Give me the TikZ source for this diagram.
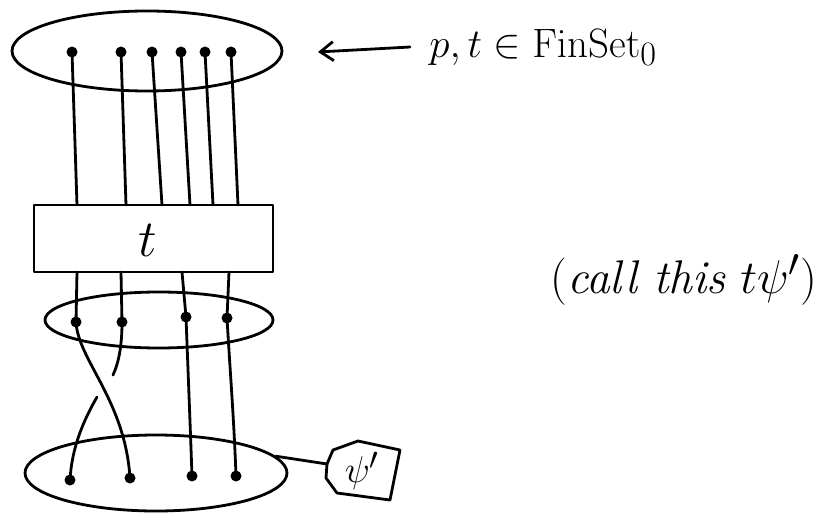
\documentclass[tikz,border=0pt]{standalone}
\usetikzlibrary{shapes.geometric,arrows.meta}
\begin{document}
\begin{tikzpicture}[x=1pt,y=-1pt,line width=2.8pt,line cap=round,line join=round,
  dot/.style={circle,fill,draw=none,inner sep=0pt,minimum size=11pt},
  setbag/.style={ellipse,draw,inner sep=0pt},
  pointer/.style={-{Straight Barb[length=13pt,width=19pt]}}]
\useasboundingbox (0,0) rectangle (834,513);

% the three finite sets
\node[setbag,minimum width=270pt,minimum height=80pt] (top) at (147,51) {};
\node[setbag,minimum width=228pt,minimum height=56pt] (mid) at (159,320) {};
\node[setbag,minimum width=262pt,minimum height=76pt] (bot) at (156,473) {};

% the box t
\node[draw,minimum width=239pt,minimum height=67pt,inner sep=0pt] (tbox) at (153.5,238.5) {};
\node (tlab) at (148,240) {\scalebox{2.1}{\Huge $t$}};

% points of the top set
\node[dot] (p1) at (72,52) {};
\node[dot] (p2) at (121,52) {};
\node[dot] (p3) at (152,52) {};
\node[dot] (p4) at (181,52) {};
\node[dot] (p5) at (205,52) {};
\node[dot] (p6) at (231,52) {};

% inputs and outputs on the box
\coordinate (u1) at (77,205);
\coordinate (u2) at (126,205);
\coordinate (u3) at (162,205);
\coordinate (u4) at (190,205);
\coordinate (u5) at (213,205);
\coordinate (u6) at (238,205);
\coordinate (d1) at (77,272);
\coordinate (d2) at (121,272);
\coordinate (d3) at (182,272);
\coordinate (d4) at (229,272);

% points of the middle and bottom sets
\node[dot] (m1) at (76,322) {};
\node[dot] (m2) at (122,322) {};
\node[dot] (m3) at (186,317) {};
\node[dot] (m4) at (227,318) {};
\node[dot] (b1) at (70,480) {};
\node[dot] (b2) at (130,478) {};
\node[dot] (b3) at (192,476) {};
\node[dot] (b4) at (236,476) {};

% wires into the box
\foreach \i in {1,...,6} \draw (p\i.center) -- (u\i);
% wires out of the box
\foreach \i in {1,...,4} \draw (d\i) -- (m\i.center);

% the crossing: m1 passes over, m2 passes under
\draw (m1.center) .. controls (78,360) and (125,400) .. (b2.center);
\draw (m2.center) .. controls (122,345) and (119,362) .. (113,375);
\draw (97,397) .. controls (85,418) and (72,445) .. (b1.center);
% straight wires
\draw (m3.center) .. controls (188,370) and (190,420) .. (b3.center);
\draw (m4.center) .. controls (230,370) and (234,420) .. (b4.center);

% the element psi'
\coordinate (h1) at (333,450);
\coordinate (h2) at (358,441);
\coordinate (h3) at (400,450);
\coordinate (h4) at (390,500);
\coordinate (h5) at (337,493);
\coordinate (h6) at (326,478);
\coordinate (h7) at (327,464);
\draw (h1) -- (h2) -- (h3) -- (h4) -- (h5) -- (h6) -- (h7) -- cycle;
\node (psi) at (362,471) {\scalebox{1.5}{\Huge $\psi'$}};
\draw (bot.8) -- (h7);

% annotation of the top set
\node[anchor=base west,inner sep=0pt] (lbl) at (428,58)
  {\scalebox{1.65}{\Huge $p,t\in\mathrm{FinSet}_0$}};
\coordinate (atail) at (410,47);
\coordinate (ahead) at (318,52);
\draw[pointer] (atail) -- (ahead);

% name of the composite
\node (callit) at (684,280)
  {\scalebox{1.9}{\Huge (\textit{call this} $t\psi'$)}};
\end{tikzpicture}
\end{document}
